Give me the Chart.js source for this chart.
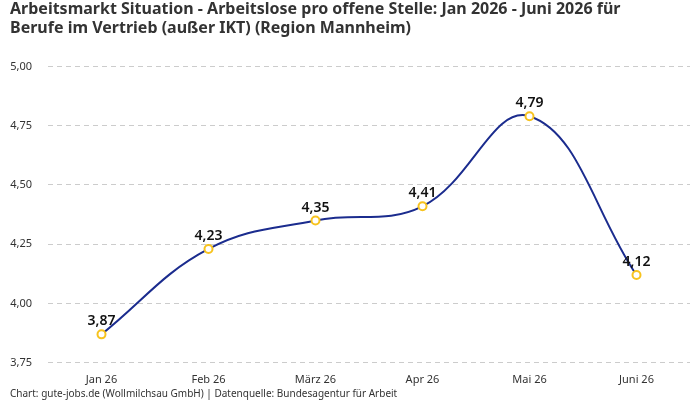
<!DOCTYPE html>
<html>
<head>
<meta charset="utf-8">
<script src="https://cdn.jsdelivr.net/npm/chart.js@4/dist/chart.umd.min.js"></script>
<style>
  html, body { margin: 0; padding: 0; background: #fff; }
  #wrap { width: 700px; height: 400px; }
</style>
</head>
<body>
<div id="wrap"><canvas id="chart"></canvas></div>
<script>
// Daten
const months = ["Jan 26", "Feb 26", "März 26", "Apr 26", "Mai 26", "Juni 26"];
const ratio = [3.87, 4.23, 4.35, 4.41, 4.79, 4.12];
const yTicks = [3.75, 4.00, 4.25, 4.50, 4.75, 5.00];

const FONT = "'Noto Sans', 'DejaVu Sans', sans-serif";
const fmt = v => v.toFixed(2).replace(".", ",");

// Werte über den Punkten
const valueLabels = {
    id: "valueLabels",
    afterDatasetsDraw(chart) {
        const ctx = chart.ctx;
        const meta = chart.getDatasetMeta(0);
        ctx.save();
        ctx.font = "600 14px " + FONT;
        ctx.fillStyle = "#111";
        ctx.textAlign = "center";
        ctx.textBaseline = "bottom";
        meta.data.forEach((pt, i) => {
            ctx.fillText(fmt(ratio[i]), pt.x, pt.y - 6);
        });
        ctx.restore();
    }
};

new Chart(document.getElementById("chart"), {
    type: "line",
    data: {
        labels: months,
        datasets: [{
            data: ratio,
            borderColor: "#1b2c8e",
            borderWidth: 2,
            tension: 0.4,
            pointRadius: 4,
            pointBorderWidth: 2,
            pointBackgroundColor: "#fff",
            pointBorderColor: "#f7c31e"
        }]
    },
    options: {
        responsive: true,
        maintainAspectRatio: false,
        animation: false,
        layout: { padding: { left: 10, right: 10, top: 0, bottom: 0 } },
        plugins: {
            legend: { display: false },
            tooltip: { enabled: false },
            title: {
                display: true,
                align: "start",
                text: ["Arbeitsmarkt Situation - Arbeitslose pro offene Stelle: Jan 2026 - Juni 2026 für",
                       "Berufe im Vertrieb (außer IKT) (Region Mannheim)"],
                color: "#333",
                font: { family: FONT, size: 16, weight: "bold", lineHeight: 1.2 },
                padding: { top: 0, bottom: 28 }
            },
            subtitle: {
                display: true,
                position: "bottom",
                align: "start",
                text: "Chart: gute-jobs.de (Wollmilchsau GmbH) | Datenquelle: Bundesagentur für Arbeit",
                color: "#333",
                font: { family: FONT, size: 10 },
                padding: { top: 0, bottom: 0 }
            }
        },
        scales: {
            x: {
                offset: true,
                grid: { display: false },
                border: { display: false },
                ticks: { color: "#333", font: { family: FONT, size: 11 }, padding: 2 }
            },
            y: {
                min: 3.75,
                max: 5.0,
                afterBuildTicks: axis => { axis.ticks = yTicks.map(v => ({ value: v })); },
                afterFit: axis => { axis.width = 38; },
                grid: { color: "#cccccc", drawTicks: false },
                border: { display: false, dash: [5, 4] },
                ticks: {
                    color: "#333",
                    font: { family: FONT, size: 11 },
                    padding: 16,
                    callback: v => fmt(v)
                }
            }
        }
    },
    plugins: [valueLabels]
});
</script>
</body>
</html>
